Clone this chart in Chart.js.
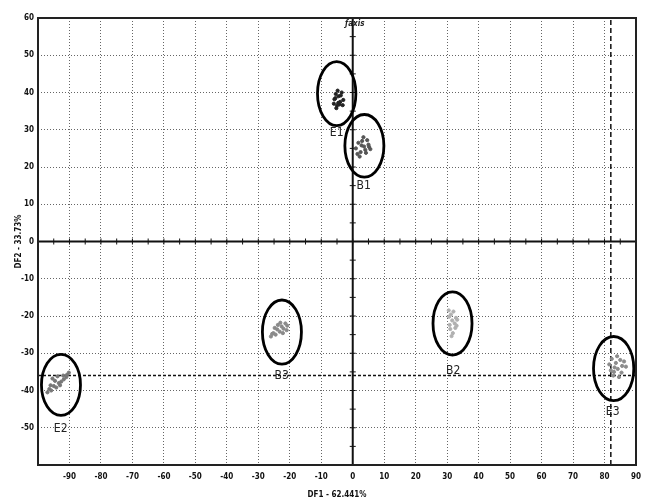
<!DOCTYPE html>
<html>
<head>
<meta charset="utf-8">
<script src="https://cdn.jsdelivr.net/npm/chart.js@4.4.0/dist/chart.umd.min.js"></script>
<style>
  body { margin: 0; background: #fff; }
  #plot { display: block; }
</style>
</head>
<body>
<canvas id="plot" width="645" height="500"></canvas>
<script>
// group names, in drawing order
const groups = ["E1", "B1", "B3", "B2", "E2", "E3"];
const groupColors = ["#222222", "#555555", "#8a8a8a", "#b0b0b0", "#777777", "#8c8c8c"];

const e1X = [-6, -5.5, -5, -4.5, -4, -3.5, -3, -5.2, -4.8, -4.2, -3.8, -5.8, -4.6, -3.2, -5.4];
const e1Y = [37, 38.5, 36.5, 39, 37.5, 40, 38, 35.8, 40.5, 36.8, 39.2, 38.2, 37.2, 36.6, 39.6];
const b1X = [1, 1.8, 2.5, 3, 3.6, 4.2, 5, 5.6, 2.2, 3.4, 4.6, 1.5, 2.8, 4, 5.2];
const b1Y = [25, 26.5, 24, 27, 25.5, 23.8, 26, 24.8, 22.8, 28, 27.2, 23.5, 25.8, 24.6, 25.4];
const b3X = [-26, -25.2, -24.5, -24, -23.2, -22.6, -22, -21.4, -20.8, -25.6, -23.8, -22.2, -21, -24.8, -23];
const b3Y = [-25.5, -24.6, -25, -23.6, -24.2, -22.8, -23.4, -22, -22.6, -24.8, -22.4, -24.6, -23.8, -23.2, -21.8];
const b2X = [30.5, 31.2, 32, 32.8, 31.6, 30.8, 32.4, 33.2, 31, 31.8, 32.6, 30.6, 33, 31.4];
const b2Y = [-18.5, -19.6, -18.8, -20.5, -21.2, -22.4, -22, -21, -23.5, -24.6, -23.2, -20.2, -22.6, -25.4];
const e2X = [-97, -96.4, -95.8, -95, -94.2, -93.4, -92.6, -91.8, -91, -90.2, -96, -94.6, -93, -92, -90.8, -95.4, -93.8];
const e2Y = [-40.5, -39.6, -40, -38.8, -39.2, -38, -37.6, -37, -36.4, -35.2, -38.6, -37.4, -38.6, -36, -35.8, -36.8, -36.2];
const e3X = [81.5, 82.3, 83, 83.6, 84.2, 85, 85.6, 86.2, 82.8, 84, 85.4, 83.2, 84.6, 86.8, 82];
const e3Y = [-33, -31.5, -35, -32.6, -34.2, -31.8, -33.4, -32.2, -36, -30.8, -35.2, -33.8, -36.4, -33.6, -34.6];

// group circles (centre + radii in axis units) and where the names sit
const ringX = [-5.1, 3.7, -22.5, 31.7, -92.7, 82.9];
const ringY = [39.7, 25.7, -24.3, -22.0, -38.5, -34.1];
const ringRx = [6.1, 6.2, 6.2, 6.2, 6.2, 6.4];
const ringRy = [8.6, 8.4, 8.6, 8.5, 8.2, 8.6];
const nameX = [-5.1, 3.5, -22.6, 31.9, -92.8, 82.6];
const nameY = [29.2, 14.9, -36.0, -34.6, -50.3, -45.7];

// dashed reference lines
const refY = -36;
const refX = 82;

const xMin = -100, xMax = 90, yMin = -60, yMax = 60;

const pairs = (xs, ys) => xs.map((v, i) => ({ x: v, y: ys[i] }));
const groupPoints = [pairs(e1X, e1Y), pairs(b1X, b1Y), pairs(b3X, b3Y), pairs(b2X, b2Y), pairs(e2X, e2Y), pairs(e3X, e3Y)];

const datasets = groups.map((g, i) => ({
  type: "scatter",
  label: g,
  data: groupPoints[i],
  pointRadius: 1.6,
  pointBorderWidth: 1,
  backgroundColor: groupColors[i],
  borderColor: groupColors[i]
}));

datasets.push({
  type: "line",
  label: "refY",
  data: [{ x: xMin, y: refY }, { x: xMax, y: refY }],
  borderColor: "#111",
  borderWidth: 1.5,
  borderDash: [3, 2],
  pointRadius: 0
});
datasets.push({
  type: "line",
  label: "refX",
  data: [{ x: refX, y: yMin }, { x: refX, y: yMax }],
  borderColor: "#111",
  borderWidth: 1.5,
  borderDash: [5, 3],
  pointRadius: 0
});

const tickFont = { family: "'DejaVu Sans Condensed', 'Liberation Sans Narrow', sans-serif", size: 8, weight: "bold" };

// frame, zero axes with their small ticks
const framePlugin = {
  id: "frame",
  beforeDatasetsDraw(chart) {
    const { ctx, chartArea: a, scales: { x, y } } = chart;
    const x0 = x.getPixelForValue(0), y0 = y.getPixelForValue(0);
    ctx.save();
    ctx.strokeStyle = "#111";
    ctx.lineWidth = 2;
    ctx.beginPath();
    ctx.moveTo(a.left, y0); ctx.lineTo(a.right, y0);
    ctx.moveTo(x0, a.top); ctx.lineTo(x0, a.bottom);
    ctx.stroke();
    ctx.lineWidth = 1;
    ctx.beginPath();
    for (let v = xMin + 5; v < xMax; v += 5) {
      const px = x.getPixelForValue(v);
      ctx.moveTo(px, y0 - 3); ctx.lineTo(px, y0 + 3);
    }
    for (let v = yMin + 5; v < yMax; v += 5) {
      const py = y.getPixelForValue(v);
      ctx.moveTo(x0 - 3, py); ctx.lineTo(x0 + 3, py);
    }
    ctx.stroke();
    ctx.font = "italic bold 8px 'DejaVu Sans Condensed', sans-serif";
    ctx.fillStyle = "#222";
    ctx.textAlign = "center";
    ctx.fillText("ƒaxis", x0 + 2, a.top + 8);
    ctx.restore();
  },
  afterDraw(chart) {
    const { ctx, chartArea: a } = chart;
    ctx.save();
    ctx.strokeStyle = "#222";
    ctx.lineWidth = 2;
    ctx.strokeRect(a.left, a.top, a.right - a.left, a.bottom - a.top);
    ctx.restore();
  }
};

// circles round each group and their names
const ringPlugin = {
  id: "rings",
  afterDatasetsDraw(chart) {
    const { ctx, scales: { x, y } } = chart;
    ctx.save();
    ctx.strokeStyle = "#000";
    ctx.lineWidth = 2.8;
    groups.forEach((g, i) => {
      const cx = x.getPixelForValue(ringX[i]);
      const cy = y.getPixelForValue(ringY[i]);
      const rx = Math.abs(x.getPixelForValue(ringX[i] + ringRx[i]) - cx);
      const ry = Math.abs(y.getPixelForValue(ringY[i] + ringRy[i]) - cy);
      ctx.beginPath();
      ctx.ellipse(cx, cy, rx, ry, 0, 0, Math.PI * 2);
      ctx.stroke();
      ctx.font = "12px 'DejaVu Sans Condensed', 'Liberation Sans Narrow', sans-serif";
      ctx.fillStyle = "#222";
      ctx.textAlign = "center";
      ctx.textBaseline = "middle";
      ctx.fillText(g, x.getPixelForValue(nameX[i]), y.getPixelForValue(nameY[i]));
    });
    ctx.restore();
  }
};

new Chart(document.getElementById("plot"), {
  data: { datasets: datasets },
  options: {
    responsive: false,
    animation: false,
    layout: { padding: { top: 18, right: 9, left: 0, bottom: 0 } },
    plugins: { legend: { display: false }, tooltip: { enabled: false } },
    scales: {
      x: {
        type: "linear",
        min: xMin,
        max: xMax,
        afterFit: (s) => { s.height = 35; s.paddingLeft = 0; s.paddingRight = 0; },
        ticks: {
          stepSize: 10,
          padding: 7,
          color: "#111",
          font: tickFont,
          maxRotation: 0,
          callback: (v) => (v === xMin ? "" : v)
        },
        grid: { color: (c) => (c.tick.value === 0 ? "transparent" : "#666"), lineWidth: 1, drawTicks: false },
        border: { display: false, dash: [1, 2] },
        title: { display: true, text: "DF1 - 62.441%", color: "#111", font: tickFont, padding: { top: 2, bottom: 0 } }
      },
      y: {
        type: "linear",
        min: yMin,
        max: yMax,
        afterFit: (s) => { s.width = 38; s.paddingTop = 0; s.paddingBottom = 0; },
        ticks: {
          stepSize: 10,
          padding: 4,
          color: "#111",
          font: tickFont,
          callback: (v) => (v === yMin ? "" : v)
        },
        grid: { color: (c) => (c.tick.value === 0 ? "transparent" : "#666"), lineWidth: 1, drawTicks: false },
        border: { display: false, dash: [1, 2] },
        title: { display: true, text: "DF2 - 33.73%", color: "#111", font: tickFont, padding: { top: 14, bottom: 0 } }
      }
    }
  },
  plugins: [framePlugin, ringPlugin]
});
</script>
</body>
</html>
